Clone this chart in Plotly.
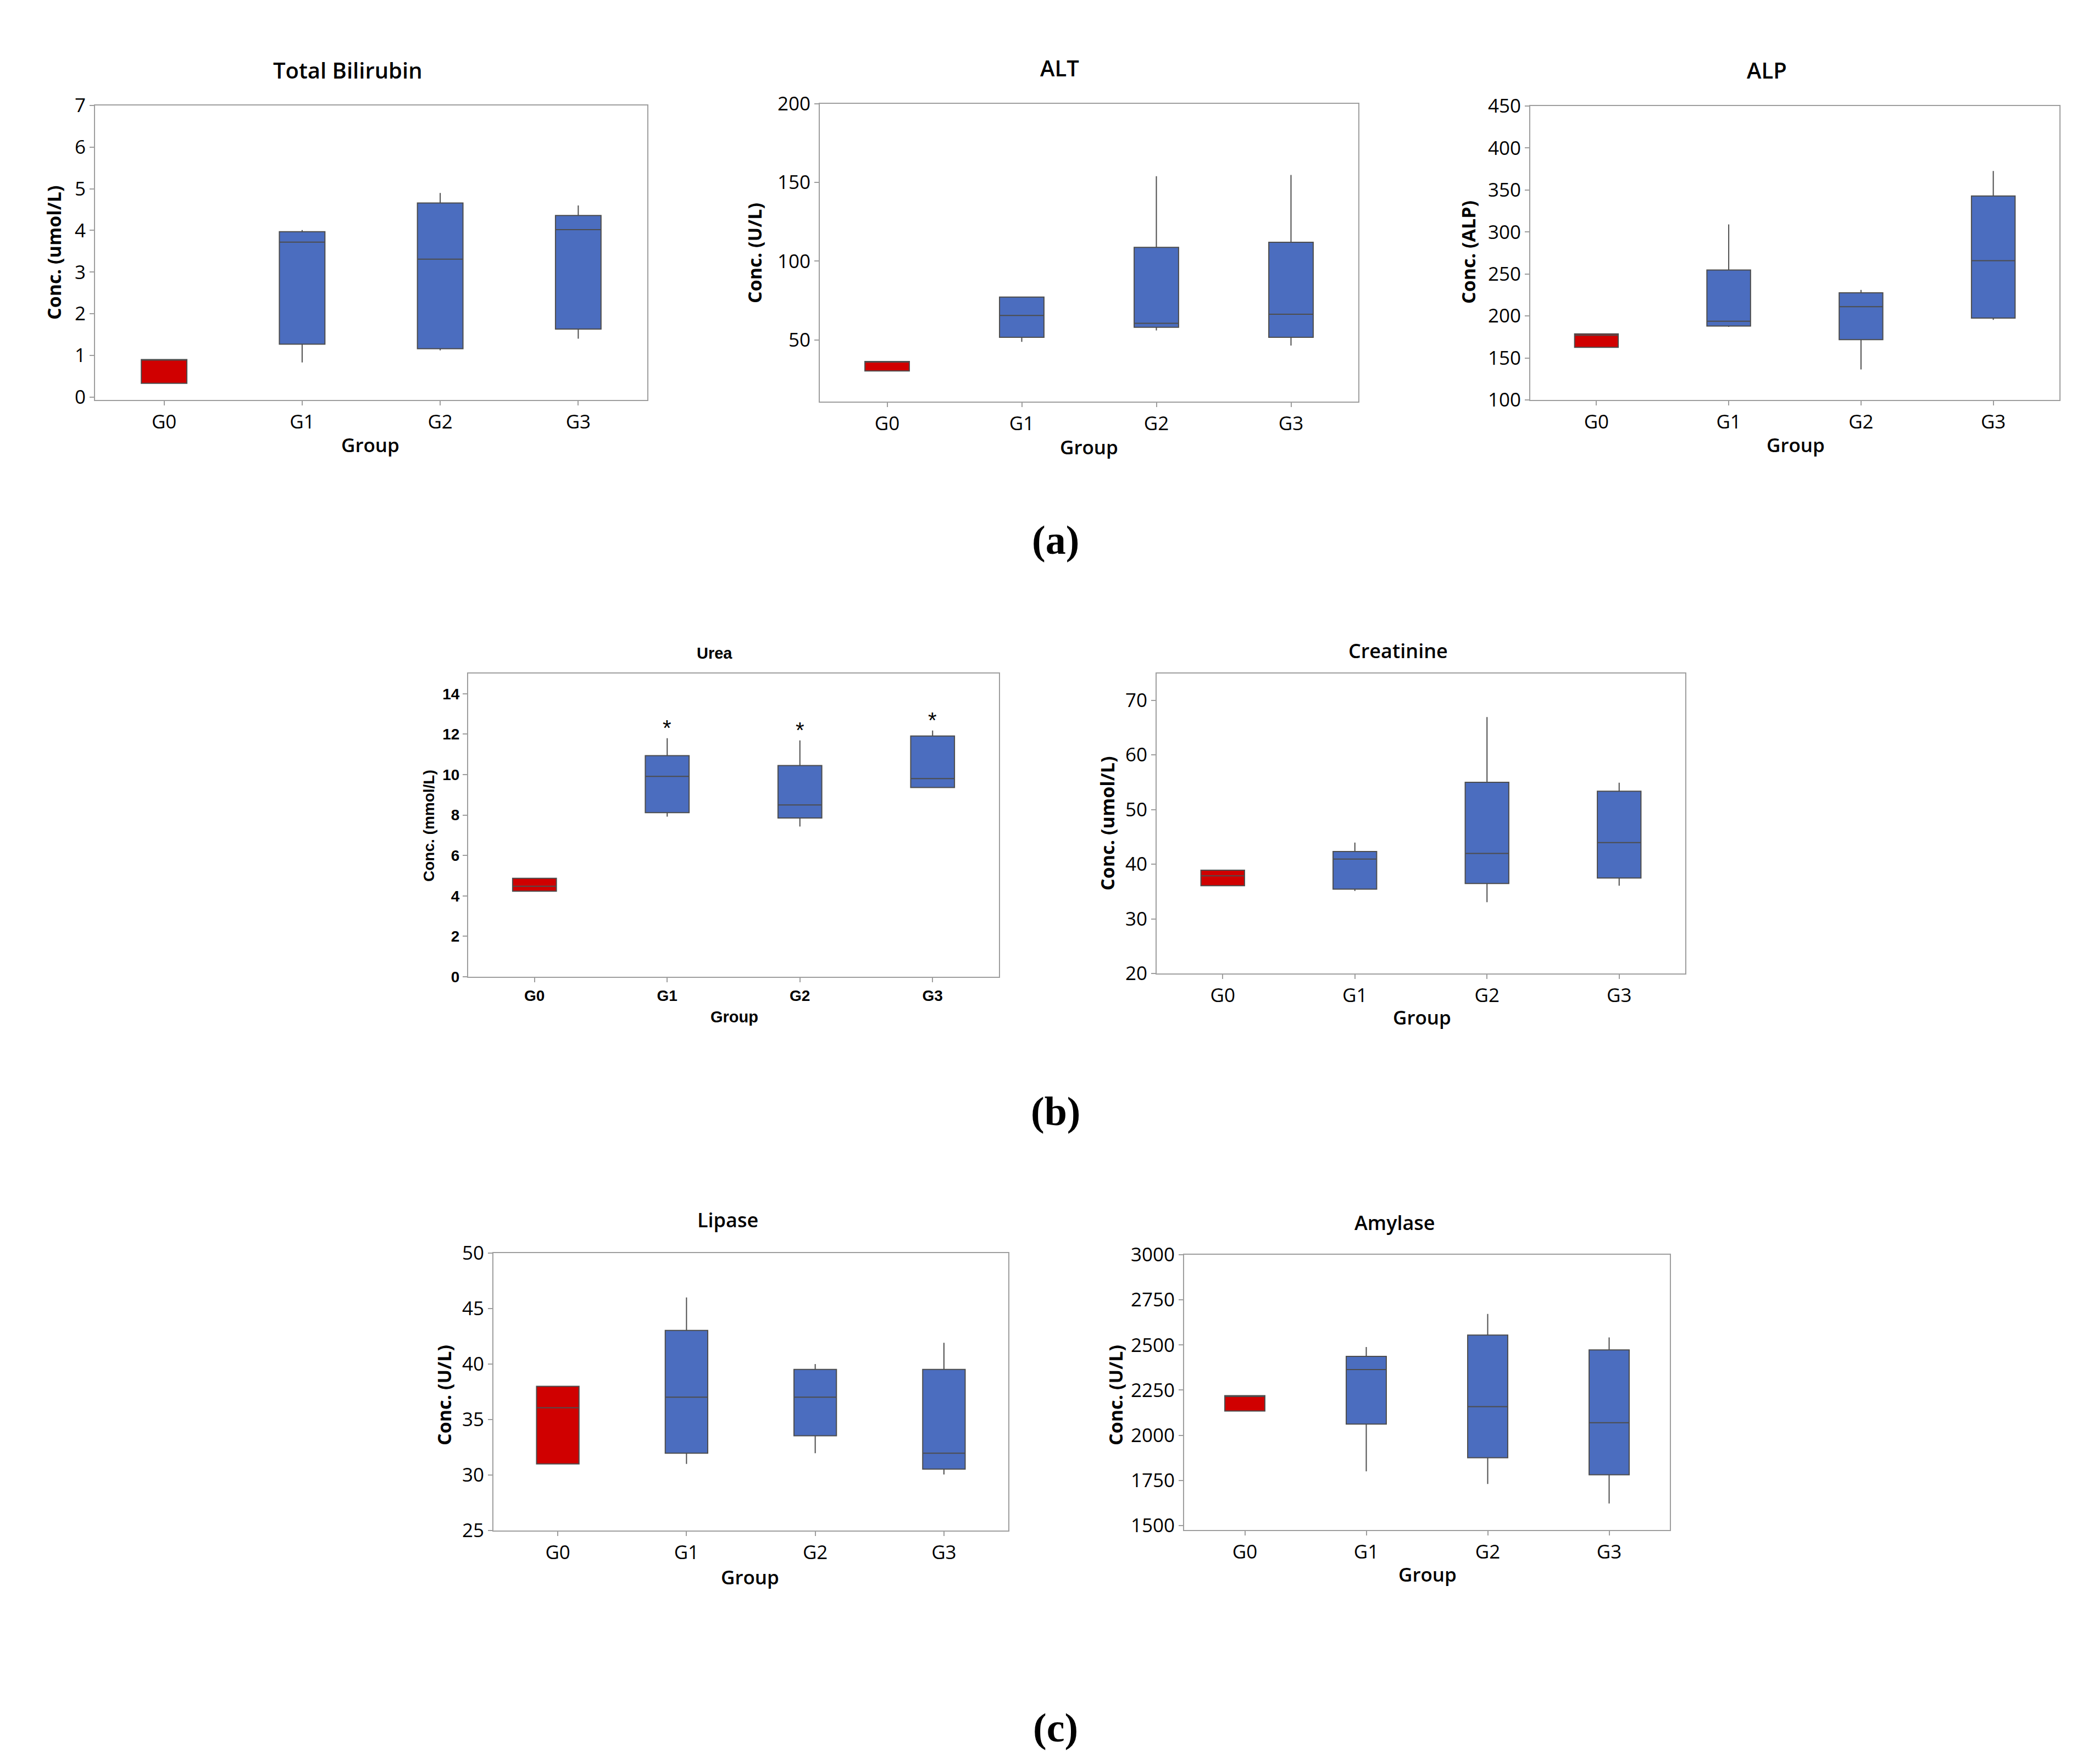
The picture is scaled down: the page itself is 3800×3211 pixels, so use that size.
import plotly.graph_objects as go

W, H = 3800, 3211

groups = ["G0", "G1", "G2", "G3"]

# Total Bilirubin (umol/L)
bili_low = [0.33, 0.83, 1.12, 1.40]
bili_q1 = [0.33, 1.27, 1.16, 1.63]
bili_med = [0.90, 3.72, 3.31, 4.02]
bili_q3 = [0.90, 3.97, 4.66, 4.36]
bili_high = [0.90, 4.01, 4.90, 4.60]

# ALT (U/L)
alt_low = [30.3, 48.8, 56.0, 46.4]
alt_q1 = [30.3, 51.6, 58.0, 51.6]
alt_med = [36.0, 65.5, 60.5, 66.3]
alt_q3 = [36.3, 77.2, 108.8, 112.0]
alt_high = [36.3, 77.2, 154.0, 154.8]

# ALP
alp_low = [162.7, 187.0, 136.3, 195.3]
alp_q1 = [162.7, 188.0, 171.8, 197.5]
alp_med = [177.0, 193.7, 211.0, 265.8]
alp_q3 = [178.6, 254.8, 227.6, 342.8]
alp_high = [178.6, 309.0, 231.0, 372.7]

# Urea (mmol/L)
urea_low = [4.23, 7.92, 7.43, 9.36]
urea_q1 = [4.23, 8.12, 7.85, 9.36]
urea_med = [4.48, 9.91, 8.50, 9.80]
urea_q3 = [4.87, 10.94, 10.45, 11.91]
urea_high = [4.87, 11.80, 11.69, 12.18]
urea_marks = ["", "*", "*", "*"]

# Creatinine (umol/L)
crea_low = [36.07, 35.10, 33.05, 36.07]
crea_q1 = [36.07, 35.43, 36.47, 37.46]
crea_med = [37.87, 40.94, 41.98, 43.96]
crea_q3 = [38.90, 42.33, 54.98, 53.35]
crea_high = [38.90, 43.96, 66.93, 54.92]

# Lipase (U/L)
lip_low = [31.0, 31.0, 31.97, 30.05]
lip_q1 = [31.0, 31.97, 33.54, 30.53]
lip_med = [36.06, 37.02, 37.02, 31.97]
lip_q3 = [38.0, 43.03, 39.52, 39.52]
lip_high = [38.0, 46.0, 40.0, 41.92]

# Amylase (U/L)
amy_low = [2134, 1800, 1730, 1622]
amy_q1 = [2134, 2062, 1875, 1781]
amy_med = [2215, 2364, 2158, 2069]
amy_q3 = [2219, 2437, 2555, 2473]
amy_high = [2219, 2489, 2672, 2542]

RED = "#d00000"
BLUE = "#4b6dbf"
EDGE = "#4d4d4d"
FRAME = "#9e9e9e"

SEGOE = dict(family="Open Sans, Noto Sans, sans-serif", color="black")
ARIAL = dict(family="Liberation Sans, Arial, sans-serif", color="black")


def px(x, y):
    return x / W, 1 - y / H


fig = go.Figure()
annotations = []


def add_text(text, x, y, size, font, weight=600, angle=0, **kw):
    fx, fy = px(x, y)
    annotations.append(dict(
        text=text, x=fx, y=fy, xref="paper", yref="paper",
        xanchor="center", yanchor="middle", showarrow=False,
        textangle=angle, font=dict(size=size, weight=weight, **font), **kw,
    ))


def add_panel(n, box, yrange, dtick, low, q1, med, q3, high,
              title, ytitle, title_xy, group_xy, ytitle_xy,
              font=SEGOE, tick_size=35, title_size=40, label_size=35,
              ytitle_size=34, tick_weight=400):
    ax = "" if n == 1 else str(n)
    for sl, color in ((slice(0, 1), RED), (slice(1, 4), BLUE)):
        fig.add_trace(go.Box(
            x=groups[sl], lowerfence=low[sl], q1=q1[sl], median=med[sl],
            q3=q3[sl], upperfence=high[sl], width=0.33, whiskerwidth=0,
            fillcolor=color, line=dict(color=EDGE, width=2),
            boxpoints=False, showlegend=False,
            xaxis="x" + ax, yaxis="y" + ax,
        ))
    x0, y0, x1, y1 = box
    dx0, dy1 = px(x0, y0)
    dx1, dy0 = px(x1, y1)
    common = dict(
        showline=True, mirror=True, linecolor=FRAME, linewidth=2,
        showgrid=False, zeroline=False, ticks="outside", ticklen=8,
        tickwidth=2, tickcolor=FRAME, automargin=False,
        tickfont=dict(size=tick_size, weight=tick_weight, **font),
    )
    fig.update_layout(**{
        "xaxis" + ax: dict(
            common, domain=[dx0, dx1], anchor="y" + ax, type="category",
            categoryorder="array", categoryarray=groups, range=[-0.5, 3.5],
        ),
        "yaxis" + ax: dict(
            common, domain=[dy0, dy1], anchor="x" + ax, range=yrange,
            dtick=dtick, tick0=0,
        ),
    })
    add_text(title, *title_xy, title_size, font)
    add_text("Group", *group_xy, label_size, font)
    add_text(ytitle, *ytitle_xy, ytitle_size, font, weight=700, angle=-90)


add_panel(1, (165, 184, 1170, 720), [-0.07, 7], 1,
          bili_low, bili_q1, bili_med, bili_q3, bili_high,
          "Total Bilirubin", "Conc. (umol/L)", (625, 119), (666, 802), (90, 452))
add_panel(2, (1484, 181, 2464, 723), [10.8, 200], 50,
          alt_low, alt_q1, alt_med, alt_q3, alt_high,
          "ALT", "Conc. (U/L)", (1920, 115), (1974, 805), (1365, 453))
add_panel(3, (2777, 185, 3740, 720), [100, 450], 50,
          alp_low, alp_q1, alp_med, alp_q3, alp_high,
          "ALP", "Conc. (ALP)", (3207, 119), (3260, 802), (2664, 451))
add_panel(4, (844, 1218, 1810, 1770), [0, 15], 2,
          urea_low, urea_q1, urea_med, urea_q3, urea_high,
          "Urea", "Conc. (mmol/L)", (1292, 1181), (1328, 1843), (772, 1495),
          font=ARIAL, tick_size=28, title_size=29, label_size=29,
          ytitle_size=28, tick_weight=700)
add_panel(5, (2097, 1218, 3059, 1764), [20, 74.9], 10,
          crea_low, crea_q1, crea_med, crea_q3, crea_high,
          "Creatinine", "Conc. (umol/L)", (2536, 1177), (2580, 1843), (2007, 1491),
          title_size=36)
add_panel(6, (890, 2273, 1827, 2778), [25, 50], 5,
          lip_low, lip_q1, lip_med, lip_q3, lip_high,
          "Lipase", "Conc. (U/L)", (1316, 2212), (1357, 2862), (800, 2532),
          title_size=36)
add_panel(7, (2147, 2276, 3031, 2777), [1475, 3000], 250,
          amy_low, amy_q1, amy_med, amy_q3, amy_high,
          "Amylase", "Conc. (U/L)", (2530, 2217), (2590, 2857), (2022, 2532),
          title_size=36)

# significance marks above the urea whiskers
for g, top, mark in zip(groups, urea_high, urea_marks):
    if mark:
        annotations.append(dict(
            text=mark, x=g, y=top, xref="x4", yref="y4", showarrow=False,
            yanchor="middle", yshift=19,
            font=dict(size=40, **ARIAL),
        ))

# panel letters
SERIF = dict(family="Liberation Serif, serif", color="black")
for letter, y in (("(a)", 975), ("(b)", 2015), ("(c)", 3137)):
    add_text(letter, 1913, y, 74, SERIF, weight=700)

fig.update_layout(
    width=W, height=H, margin=dict(l=0, r=0, t=0, b=0),
    paper_bgcolor="white", plot_bgcolor="white",
    boxmode="overlay", annotations=annotations,
)

fig.write_html("out.html")
